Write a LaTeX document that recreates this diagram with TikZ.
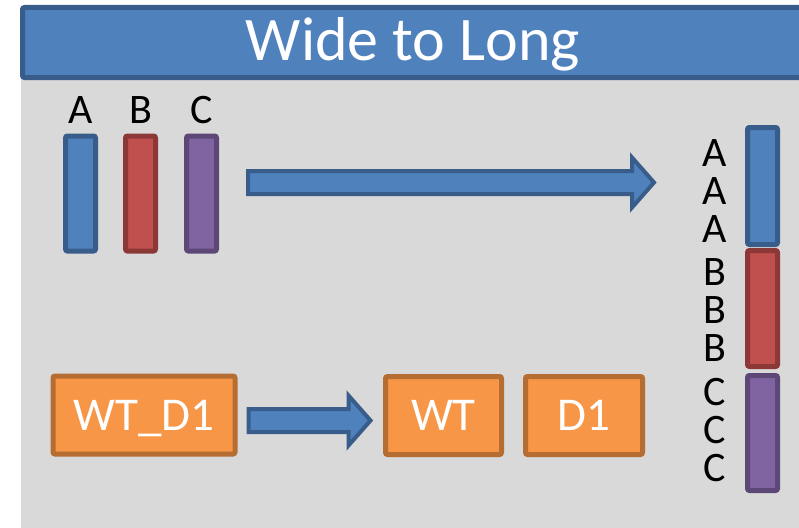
\documentclass[tikz,border=0pt]{standalone}
\usepackage{fontspec}
\setmainfont{Carlito}
\usetikzlibrary{positioning, calc}

\definecolor{wlblue}{HTML}{4F81BD}
\definecolor{wlblueline}{HTML}{385D8A}
\definecolor{wlred}{HTML}{C0504D}
\definecolor{wlredline}{HTML}{8C3836}
\definecolor{wlpurple}{HTML}{8064A2}
\definecolor{wlpurpleline}{HTML}{5C4776}
\definecolor{wlorange}{HTML}{F79646}
\definecolor{wlorangeline}{HTML}{B66D31}
\definecolor{wlgray}{HTML}{D9D9D9}

\tikzset{
  colbar/.style={line width=5pt, rounded corners=2pt, inner sep=0pt, minimum width=30pt},
  bluebar/.style={colbar, fill=wlblue, draw=wlblueline},
  redbar/.style={colbar, fill=wlred, draw=wlredline},
  purplebar/.style={colbar, fill=wlpurple, draw=wlpurpleline},
  letter/.style={inner sep=0pt, font=\fontsize{42}{42}\selectfont},
  keybox/.style={line width=5pt, rounded corners=2pt, fill=wlorange, draw=wlorangeline,
                 text=white, minimum height=78pt, inner sep=0pt,
                 text height=30pt, text depth=0pt, font=\fontsize{47}{47}\selectfont},
  bigarrow/.style={line width=4pt, fill=wlblue, draw=wlblueline}
}

\newcommand{\blockarrow}[2]{%
  \draw[bigarrow] ($(#1)+(0,11.5)$) -- ($(#2)+(-22,11.5)$) -- ($(#2)+(-22,25)$) -- (#2)
    -- ($(#2)+(-22,-25)$) -- ($(#2)+(-22,-11.5)$) -- ($(#1)+(0,-11.5)$) -- cycle;}

\begin{document}
\begin{tikzpicture}[x=1pt, y=-1pt]
  \path[use as bounding box, clip] (0,0) rectangle (799,527);
  % background and title
  \fill[wlgray] (21,79) rectangle (810,540);
  \draw[line width=5pt, fill=wlblue, draw=wlblueline, rounded corners=2pt]
    (22.5,7.5) rectangle (815,77.5);
  \node[text=white, inner sep=0pt, text height=38pt, text depth=0pt,
        font=\fontsize{62}{62}\selectfont] (title) at (413,41.5) {Wide to Long};

  % wide columns
  \node[bluebar, minimum height=115pt] (wideA) at (80.5,193.5) {};
  \node[redbar, minimum height=115pt, right=25pt of wideA] (wideB) {};
  \node[purplebar, minimum height=115pt, right=26pt of wideB] (wideC) {};
  \foreach \ch in {A,B,C}
    \node[letter, above=10pt of wide\ch] (lbl\ch) {\ch};

  % long column
  \node[bluebar, minimum height=117pt] (longA) at (762.5,186) {};
  \node[redbar, minimum height=116pt, below=1pt of longA] (longB) {};
  \node[purplebar, minimum height=115pt, below=4pt of longB] (longC) {};
  \foreach \g/\ch in {0/A,1/B,2/C}
    \foreach \k in {0,1,2}
      \node[letter] (long\ch\k) at (715,{153+119.5*\g+38*\k}) {\ch};

  \coordinate (wideTail) at ($(wideC.east)+(29,-11)$);
  \coordinate (wideTip) at (654,182.5);
  \blockarrow{wideTail}{wideTip}

  % splitting the key
  \node[keybox, minimum width=182pt] (wtd1) at (144,415) {WT\_D1};
  \node[keybox, minimum width=116pt] (wt) at (443.5,415.5) {WT};
  \node[keybox, minimum width=117pt, right=19pt of wt] (d1) {D1};

  \coordinate (keyTail) at ($(wtd1.east)+(11,5.5)$);
  \coordinate (keyTip) at ($(wt.west)+(-12.5,5)$);
  \blockarrow{keyTail}{keyTip}
\end{tikzpicture}
\end{document}
